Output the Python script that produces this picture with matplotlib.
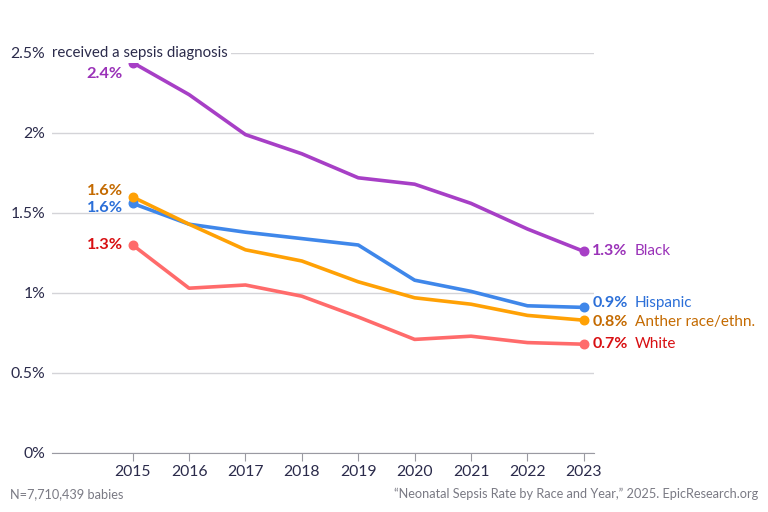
"""Neonatal sepsis rate by race and year, line chart with direct labels."""

import matplotlib

matplotlib.use("Agg")
import matplotlib.pyplot as plt
from matplotlib import transforms

plt.rcParams["font.family"] = ["Lato", "DejaVu Sans"]

years = [2015, 2016, 2017, 2018, 2019, 2020, 2021, 2022, 2023]
black = [2.44, 2.24, 1.99, 1.87, 1.72, 1.68, 1.56, 1.40, 1.26]
hispanic = [1.56, 1.43, 1.38, 1.34, 1.30, 1.08, 1.01, 0.92, 0.91]
other = [1.60, 1.43, 1.27, 1.20, 1.07, 0.97, 0.93, 0.86, 0.83]
white = [1.30, 1.03, 1.05, 0.98, 0.85, 0.71, 0.73, 0.69, 0.68]

y_ticks = [0, 0.5, 1, 1.5, 2, 2.5]
y_labels = ["0%", "0.5%", "1%", "1.5%", "2%", "2.5%"]

series = [
    # name, values, line colour, text colour, start label offset (pt), end label offset (pt)
    ("Black", black, "#a73fc6", "#9a32b8", -8, 0),
    ("Hispanic", hispanic, "#3f87ea", "#2b6fd8", -3, 3),
    ("Anther race/ethn.", other, "#ffa105", "#c46a00", 4, -1.5),
    ("White", white, "#ff6b6b", "#d80f12", 0, 0),
]

TEXT = "#2b2b4b"
GRID = "#d4d4d8"

fig = plt.figure(figsize=(7.68, 5.12), dpi=100)
ax = fig.add_axes([52 / 768, 59 / 512, 542 / 768, 400 / 512])

for name, values, line_col, text_col, start_dy, end_dy in series:
    ax.plot(years, values, color=line_col, linewidth=2.6, solid_capstyle="round", zorder=3)
    ax.scatter([years[0], years[-1]], [values[0], values[-1]], color=line_col, s=38, zorder=4)
    ax.annotate(
        f"{values[0]:.1f}%",
        xy=(years[0], values[0]),
        xytext=(-7, start_dy),
        textcoords="offset points",
        ha="right",
        va="center",
        fontsize=11.8,
        fontweight="bold",
        color=text_col,
    )
    ann = ax.annotate(
        f"{values[-1]:.1f}%",
        xy=(years[-1], values[-1]),
        xytext=(6, end_dy),
        textcoords="offset points",
        ha="left",
        va="center",
        fontsize=11.5,
        fontweight="bold",
        color=text_col,
    )
    ax.annotate(
        name,
        xy=(1, 0.5),
        xycoords=ann,
        xytext=(5, 0),
        textcoords="offset points",
        ha="left",
        va="center",
        fontsize=11,
        color=text_col,
    )

ax.set_xlim(2013.57, 2023.18)
ax.set_ylim(0, 2.5)
ax.set_yticks(y_ticks)
ax.set_yticklabels(y_labels)
ax.set_xticks(years)
ax.grid(axis="y", color=GRID, linewidth=1)
ax.set_axisbelow(True)

for side in ["top", "right", "left"]:
    ax.spines[side].set_visible(False)
ax.spines["bottom"].set_color("#9a9aa2")
ax.tick_params(axis="y", length=0, pad=5, labelsize=11.3, labelcolor=TEXT)
ax.tick_params(axis="x", length=6, color="#9a9aa2", pad=3, labelsize=11.3, labelcolor=TEXT)

# note sitting on the top gridline
blend = transforms.blended_transform_factory(ax.transAxes, ax.transData)
ax.text(
    0.0,
    2.5,
    "received a sepsis diagnosis",
    transform=blend,
    ha="left",
    va="center",
    fontsize=10.8,
    color=TEXT,
    bbox=dict(facecolor="white", edgecolor="none", pad=2),
    zorder=5,
)

fig.text(10 / 768, 1 - 494 / 512, "N=7,710,439 babies", ha="left", va="center",
         fontsize=9.2, color="#7a7a84")
fig.text(758 / 768, 1 - 494 / 512,
         "\u201cNeonatal Sepsis Rate by Race and Year,\u201d 2025. EpicResearch.org",
         ha="right", va="center", fontsize=9.2, color="#7a7a84")

fig.savefig("out.png", dpi=100)
